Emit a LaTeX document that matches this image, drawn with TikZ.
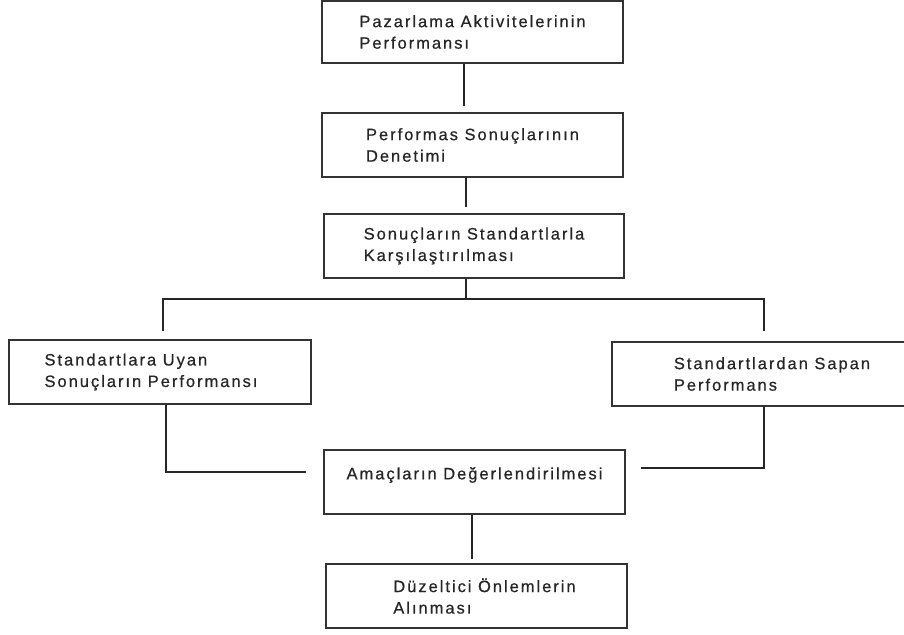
\documentclass[tikz,border=0pt]{standalone}
\usepackage{fontspec}
\setmainfont{Liberation Sans}[LetterSpace=12,FakeBold=0.6]
\usepackage{tikz}

\begin{document}
\begin{tikzpicture}[x=1pt,y=-1pt,
	kutu/.style={draw=black!80,line width=1.6pt,align=left,inner sep=0pt,minimum width=301pt,minimum height=64pt,text=black!85,font=\fontsize{16.5}{21.5}\selectfont},
	hat/.style={draw=black!85,line width=1.6pt}]
\useasboundingbox (0,0) rectangle (904,634);
\clip (0,0) rectangle (904,634);
\node [kutu,minimum height=62pt] (a) at (472.5,32) {Pazarlama Aktivitelerinin\\Performansı};
\node [kutu] (b) at (472.5,145) {Performas Sonuçlarının\\Denetimi};
\node [kutu,minimum width=300pt] (c) at (474,246) {Sonuçların Standartlarla\\Karşılaştırılması};
\node [kutu,minimum width=302pt] (d) at (160,372) {Standartlara Uyan\hspace*{18pt}\\Sonuçların Performansı\hspace*{18pt}};
\node [kutu,minimum width=320pt] (e) at (772,374) {Standartlardan Sapan\\Performans};
\node [kutu] (f) at (474.5,482) {Amaçların Değerlendirilmesi\\[-4pt]};
\node [kutu] (g) at (476.5,596) {\hspace*{16pt}Düzeltici Önlemlerin\\\hspace*{16pt}Alınması};
% baglantilar
\coordinate (s) at ([xshift=-8,yshift=-20]c.south);
\draw [hat,shorten >=6] ([xshift=-8.5]a.south) -- ([xshift=-8.5]a.south |- b.north);
\draw [hat,shorten >=6] ([xshift=-6.5]b.south) -- ([xshift=-6.5]b.south |- c.north);
\draw [hat] ([xshift=-8]c.south) -- (s);
\draw [hat,shorten <=8,shorten >=10] ([xshift=3]d.north) |- (s) -| ([xshift=-8]e.north);
\draw [hat,shorten >=17] ([xshift=6]d.south) |- ([yshift=10]f.west);
\draw [hat,shorten >=15] ([xshift=-8]e.south) |- ([yshift=14]f.east);
\draw [hat,shorten >=4] ([xshift=-2.5]f.south) -- ([xshift=-2.5]f.south |- g.north);
\end{tikzpicture}
\end{document}
